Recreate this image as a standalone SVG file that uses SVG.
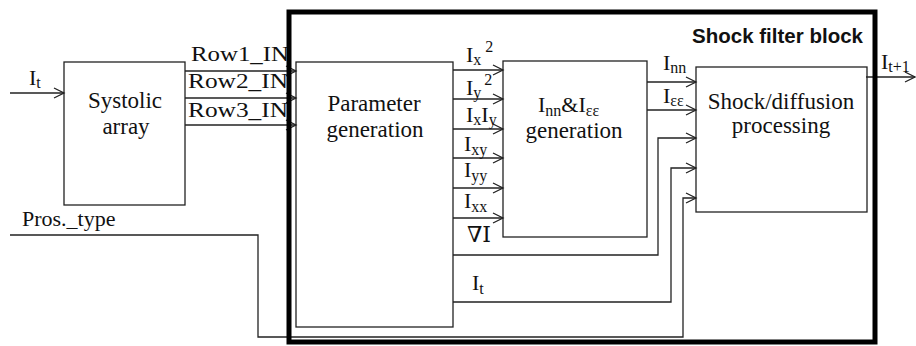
<svg xmlns="http://www.w3.org/2000/svg" width="916" height="346" viewBox="0 0 916 346">
  <style>
    .box { fill: none; stroke: #222; stroke-width: 1.3; }
    .frame { fill: none; stroke: #000; stroke-width: 5; }
    .wire { fill: none; stroke: #222; stroke-width: 1.3; }
    .arr { marker-end: url(#chev); }
    .t { font-size: 22px; fill: #111; }
    .c { font-size: 23px; fill: #111; text-anchor: middle; }
    .row { font-size: 20px; fill: #111; }
    .sub { font-size: 16px; }
    .title { font-family: "Liberation Sans", Arial, sans-serif; font-size: 20px; font-weight: bold; fill: #111; }
  </style>
  <defs>
    <marker id="chev" markerUnits="userSpaceOnUse" markerWidth="12" markerHeight="12" refX="11" refY="6" orient="auto" overflow="visible">
      <path d="M1,1 L11,6 L1,11" fill="none" stroke="#222" stroke-width="1.3"/>
    </marker>
  </defs>

  <rect width="916" height="346" fill="#fff"/>

  <!-- connectors -->
  <g id="connectors">
    <line class="wire arr" x1="10" y1="93" x2="64" y2="93"/>
    <line class="wire arr" x1="185" y1="71" x2="296" y2="71"/>
    <line class="wire arr" x1="185" y1="98" x2="296" y2="98"/>
    <line class="wire arr" x1="185" y1="125" x2="296" y2="125"/>

    <line class="wire arr" x1="453" y1="70" x2="503" y2="70"/>
    <line class="wire arr" x1="453" y1="99" x2="503" y2="99"/>
    <line class="wire arr" x1="453" y1="129" x2="503" y2="129"/>
    <line class="wire arr" x1="453" y1="158" x2="503" y2="158"/>
    <line class="wire arr" x1="453" y1="188" x2="503" y2="188"/>
    <line class="wire arr" x1="453" y1="218" x2="503" y2="218"/>

    <polyline class="wire arr" points="453,255 658,255 658,138 696,138"/>
    <polyline class="wire arr" points="453,302 671,302 671,168 696,168"/>
    <polyline class="wire arr" points="10,235 258,235 258,337 683,337 683,198 696,198"/>

    <line class="wire arr" x1="647" y1="82" x2="696" y2="82"/>
    <line class="wire arr" x1="647" y1="110" x2="696" y2="110"/>
    <line class="wire arr" x1="866" y1="77" x2="915" y2="77"/>
  </g>

  <g font-family="'Liberation Serif', 'Times New Roman', 'DejaVu Serif', serif">
    <!-- systolic array -->
    <g id="systolic">
      <rect class="box" x="64" y="62" width="121" height="143"/>
      <text class="c" x="125" y="108">Systolic</text>
      <text class="c" x="126" y="134">array</text>
    </g>

    <!-- row buses -->
    <g id="row-labels">
      <text class="row" x="191" y="61" textLength="98" lengthAdjust="spacingAndGlyphs">Row1_IN</text>
      <text class="row" x="188" y="88" textLength="100" lengthAdjust="spacingAndGlyphs">Row2_IN</text>
      <text class="row" x="188" y="117" textLength="100" lengthAdjust="spacingAndGlyphs">Row3_IN</text>
    </g>

    <!-- parameter generation -->
    <g id="param-gen">
      <rect class="box" x="296" y="62" width="157" height="265"/>
      <text class="c" x="374" y="111">Parameter</text>
      <text class="c" x="375" y="137">generation</text>
    </g>

    <!-- Inn & Iee generation -->
    <g id="inn-gen">
      <rect class="box" x="503" y="61" width="144" height="176"/>
      <text class="t" x="538" y="112">I<tspan class="sub" dy="4">nn</tspan><tspan dy="-4">&amp;I</tspan><tspan class="sub" dy="4">εε</tspan></text>
      <text class="c" x="574" y="138">generation</text>
    </g>

    <!-- shock / diffusion processing -->
    <g id="shock-proc">
      <rect class="box" x="696" y="67" width="171" height="145"/>
      <text class="c" x="781" y="109">Shock/diffusion</text>
      <text class="c" x="781" y="133">processing</text>
    </g>

    <!-- signal labels -->
    <g id="signal-labels">
      <text class="t" x="29" y="85">I<tspan class="sub" dy="3">t</tspan></text>
      <text class="t" x="22" y="226">Pros._type</text>

      <text class="t" x="466" y="62">I<tspan class="sub" dy="3">x</tspan><tspan class="sub" dx="4" dy="-13">2</tspan></text>
      <text class="t" x="466" y="95">I<tspan class="sub" dy="3">y</tspan><tspan class="sub" dx="3" dy="-13">2</tspan></text>
      <text class="t" x="466" y="122">I<tspan class="sub" dy="3">x</tspan><tspan dy="-3">I</tspan><tspan class="sub" dy="3">y</tspan></text>
      <text class="t" x="464" y="151">I<tspan class="sub" dy="4">xy</tspan></text>
      <text class="t" x="464" y="177">I<tspan class="sub" dy="4">yy</tspan></text>
      <text class="t" x="464" y="208">I<tspan class="sub" dy="4">xx</tspan></text>
      <text class="t" x="467" y="242" font-family="'DejaVu Serif', serif" font-size="19">∇I</text>
      <text class="t" x="472" y="290">I<tspan class="sub" dy="4">t</tspan></text>

      <text class="t" x="663" y="70">I<tspan class="sub" dy="3">nn</tspan></text>
      <text class="t" x="663" y="103">I<tspan class="sub" dy="3">εε</tspan></text>
      <text class="t" x="881" y="69">I<tspan class="sub" dy="3">t+1</tspan></text>
    </g>
  </g>

  <!-- shock filter block boundary -->
  <g id="shock-filter-block">
    <rect class="frame" x="289" y="12" width="586" height="330"/>
    <text class="title" x="692" y="43" textLength="171" lengthAdjust="spacingAndGlyphs">Shock filter block</text>
  </g>
</svg>
